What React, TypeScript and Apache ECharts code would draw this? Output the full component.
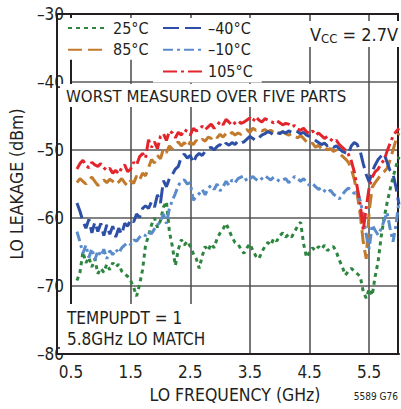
import React, { useEffect, useRef } from "react";
import * as echarts from "echarts";

const FONT = "'DejaVu Sans Condensed', 'Liberation Sans', sans-serif";

const freqGHz = [
  0.6, 0.65, 0.7, 0.75, 0.8, 0.85, 0.9, 0.95, 1.0, 1.05, 1.1, 1.15, 1.2, 1.25, 1.3, 1.35, 1.4, 1.45,
  1.5, 1.55, 1.6, 1.65, 1.7, 1.75, 1.8, 1.85, 1.9, 1.95, 2.0, 2.05, 2.1, 2.15, 2.2, 2.25, 2.3, 2.35,
  2.4, 2.45, 2.5, 2.55, 2.6, 2.65, 2.7, 2.75, 2.8, 2.85, 2.9, 2.95, 3.0, 3.05, 3.1, 3.15, 3.2, 3.25,
  3.3, 3.35, 3.4, 3.45, 3.5, 3.55, 3.6, 3.65, 3.7, 3.75, 3.8, 3.85, 3.9, 3.95, 4.0, 4.05, 4.1, 4.15,
  4.2, 4.25, 4.3, 4.35, 4.4, 4.45, 4.5, 4.55, 4.6, 4.65, 4.7, 4.75, 4.8, 4.85, 4.9, 4.95, 5.0, 5.05,
  5.1, 5.15, 5.2, 5.25, 5.3, 5.35, 5.4, 5.45, 5.5, 5.55, 5.6, 5.65, 5.7, 5.75, 5.8, 5.85, 5.9, 5.95, 6.0,
];

const leak25C = [
  -69.2, -68.0, -65.0, -66.6, -65.8, -67.2, -66.0, -68.2, -67.4, -68.0, -66.8, -67.6, -66.6, -67.2, -66.8, -67.8, -68.2, -68.6,
  -69.2, -70.2, -71.5, -69.8, -67.6, -64.0, -62.6, -61.0, -60.0, -61.4, -60.4, -58.4, -57.6, -62.0, -64.2, -67.0, -64.6, -63.2,
  -64.0, -63.4, -64.2, -65.2, -66.0, -67.4, -65.6, -64.2, -64.8, -63.8, -64.4, -63.0, -62.2, -61.6, -60.8, -61.8, -62.8, -63.6,
  -63.8, -64.6, -65.2, -64.4, -63.8, -64.8, -65.6, -66.0, -65.0, -64.2, -63.6, -64.0, -63.0, -63.4, -62.6, -62.2, -62.8, -62.4,
  -62.8, -62.0, -61.2, -60.6, -63.8, -65.8, -65.0, -64.4, -64.8, -64.2, -64.6, -64.0, -64.8, -64.4, -64.2, -65.0, -66.2, -67.2,
  -68.4, -67.8, -67.4, -67.8, -68.2, -68.6, -70.8, -71.8, -70.4, -71.4, -68.6, -66.4, -62.8, -60.0, -57.8, -55.8, -54.0, -52.4, -51.0,
];

const leak85C = [
  -54.8, -54.2, -54.6, -55.0, -54.4, -54.0, -54.6, -55.2, -55.0, -54.4, -54.8, -54.3, -54.6, -55.1, -54.7, -54.2, -54.8, -55.3,
  -54.5, -54.9, -53.8, -54.4, -53.4, -53.8, -52.6, -51.4, -51.9, -50.8, -51.3, -49.8, -50.4, -49.4, -49.9, -49.2, -48.8, -49.4,
  -48.9, -49.6, -48.8, -49.2, -48.6, -48.9, -48.4, -48.7, -48.1, -48.3, -47.8, -48.2, -47.7, -48.1, -47.6, -47.9, -47.4, -47.8,
  -47.5, -47.7, -47.3, -47.0, -47.4, -46.8, -47.1, -46.9, -47.2, -47.0, -47.3, -47.1, -47.4, -47.2, -47.5, -47.3, -47.6, -47.8,
  -47.6, -48.0, -48.2, -47.9, -48.3, -48.8, -49.2, -49.0, -49.6, -49.3, -49.8, -49.5, -50.0, -49.8, -50.2, -50.0, -50.5, -50.9,
  -51.3, -51.8, -52.8, -54.3, -56.5, -59.5, -63.5, -66.0, -59.0, -55.5, -54.8, -54.2, -53.6, -53.2, -52.7, -51.5, -50.0, -48.5, -47.5,
];

const leakM40C = [
  -57.8, -59.0, -60.5, -61.5, -60.2, -62.2, -60.6, -62.0, -60.8, -62.6, -61.0, -62.4, -61.2, -62.8, -61.5, -62.4, -60.8, -61.2,
  -60.2, -60.6, -59.4, -59.9, -58.6, -58.2, -58.6, -57.6, -58.4, -56.6, -57.8, -54.5, -55.4, -54.2, -53.6, -52.8, -52.4, -51.0,
  -50.6, -51.2, -50.8, -51.9, -50.9, -50.5, -50.8, -50.2, -49.8, -49.6, -50.0, -49.5, -49.2, -49.6, -49.0, -49.3, -48.9, -49.2,
  -48.7, -49.0, -48.8, -48.4, -48.0, -48.3, -48.6, -48.2, -47.8, -47.6, -47.3, -47.5, -47.8, -47.4, -47.6, -47.3, -47.5, -47.2,
  -47.4, -47.1, -47.3, -47.6, -47.4, -47.8, -48.0, -48.3, -48.6, -48.9, -49.2, -49.0, -49.4, -49.2, -49.6, -49.4, -49.8, -50.2,
  -50.4, -50.6, -49.4, -48.9, -49.2, -50.2, -52.0, -53.6, -54.7, -53.2, -52.2, -51.4, -50.9, -50.5, -51.8, -53.0, -53.6, -55.5, -58.0,
];

const leakM10C = [
  -62.0, -63.5, -65.2, -64.0, -65.8, -64.5, -66.2, -64.8, -65.6, -64.6, -66.0, -64.8, -65.4, -64.6, -65.2, -64.4, -64.0, -63.6,
  -63.9, -63.2, -63.4, -62.8, -62.4, -62.6, -62.0, -62.3, -61.6, -61.0, -60.6, -59.4, -60.8, -58.6, -57.4, -56.4, -55.2, -54.6,
  -54.4, -55.0, -54.8, -57.4, -56.8, -56.4, -55.8, -56.6, -55.6, -55.2, -55.8, -55.0, -56.0, -55.4, -54.6, -55.2, -54.4, -54.8,
  -54.2, -54.0, -53.8, -54.6, -54.2, -53.9, -54.3, -54.6, -54.2, -53.8, -54.1, -54.4, -54.0, -54.3, -54.6, -54.4, -54.2, -54.8,
  -54.4, -53.9, -54.2, -54.6, -54.2, -54.8, -55.2, -54.9, -55.4, -55.8, -55.5, -56.0, -56.3, -55.9, -56.5, -56.8, -57.2, -56.6,
  -56.0, -55.6, -55.9, -56.4, -56.0, -57.5, -59.5, -62.5, -64.5, -61.0, -61.8, -62.5, -61.6, -60.4, -59.2, -61.5, -63.5, -61.0, -57.5,
];

const leak105C = [
  -52.8, -52.0, -51.5, -52.3, -52.6, -51.8, -52.2, -52.4, -52.0, -52.6, -53.0, -52.7, -53.4, -53.0, -53.5, -52.6, -52.2, -53.2,
  -52.8, -51.8, -52.2, -51.0, -50.5, -51.2, -48.5, -49.6, -48.8, -49.8, -48.0, -47.6, -48.6, -47.2, -47.5, -48.2, -47.4, -47.8,
  -47.0, -47.3, -47.8, -46.8, -47.2, -47.0, -46.5, -47.0, -46.6, -46.2, -46.8, -46.4, -45.8, -46.3, -45.5, -45.9, -46.4, -46.0,
  -45.7, -46.1, -45.9, -45.6, -45.3, -45.8, -45.1, -45.6, -45.9, -45.4, -45.6, -45.8, -46.0, -45.7, -46.0, -46.3, -46.1, -46.2,
  -46.6, -46.4, -46.9, -47.1, -46.8, -47.3, -47.6, -47.2, -47.8, -47.5, -47.9, -48.3, -48.0, -48.4, -48.8, -48.6, -49.2, -49.6,
  -50.0, -50.6, -51.6, -53.2, -55.5, -58.0, -61.8, -58.5, -55.5, -54.0, -53.2, -52.8, -52.0, -51.5, -50.2, -49.0, -48.0, -47.3, -46.8,
];

const xTickValues = [0.5, 1.5, 2.5, 3.5, 4.5, 5.5];

const seriesDefs = [
  { name: "25°C", values: leak25C, color: "#2e8540", dash: [4, 4] },
  { name: "85°C", values: leak85C, color: "#c27a2c", dash: [14, 6] },
  { name: "–40°C", values: leakM40C, color: "#2d4fa6", dash: [16, 6] },
  { name: "–10°C", values: leakM10C, color: "#5a8bcb", dash: [10, 4, 3, 4] },
  { name: "105°C", values: leak105C, color: "#e3242b", dash: [14, 4, 3, 4] },
];

const dashLabel = (v: number) => String(v).replace("-", "–");

export default function App() {
  const ref = useRef<HTMLDivElement>(null);
  useEffect(() => {
    if (!ref.current) return;
    const chart = echarts.init(ref.current, null, { renderer: "svg" });
    const legendText = { fontFamily: FONT, fontSize: 16, color: "#231f20", lineHeight: 20 };
    const legendCommon = {
      orient: "vertical" as const,
      itemWidth: 40,
      itemHeight: 14,
      itemGap: 1.7,
      backgroundColor: "#fff",
      textStyle: legendText,
      selectedMode: false,
      itemStyle: { color: "rgba(0,0,0,0)", borderWidth: 0, opacity: 0 },
    };
    chart.setOption({
      animation: false,
      backgroundColor: "#fff",
      grid: { left: 56, top: 14, right: 2, bottom: 54 },
      legend: [
        { ...legendCommon, data: ["25°C", "85°C"], left: 62, top: 18, padding: [0, 8, 0, 5] },
        { ...legendCommon, data: ["–40°C", "–10°C", "105°C"], left: 153, top: 18, padding: [0, 9, 1, 9] },
      ],
      xAxis: {
        type: "value",
        min: 0.5,
        max: 6.0,
        name: "LO FREQUENCY (GHz)",
        nameLocation: "middle",
        nameGap: 32,
        nameTextStyle: { fontFamily: FONT, fontSize: 17.5, color: "#231f20" },
        axisLine: { show: true, onZero: false, lineStyle: { color: "#231f20", width: 2 } },
        axisTick: { show: false, customValues: xTickValues },
        axisLabel: {
          customValues: xTickValues,
          fontFamily: FONT,
          fontSize: 17,
          color: "#231f20",
          margin: 9,
          formatter: (v: number) => v.toFixed(1),
        },
        splitLine: { show: true, lineStyle: { color: "#4a4a4a", width: 1.5 } },
      },
      yAxis: {
        type: "value",
        min: -80,
        max: -30,
        interval: 10,
        name: "LO LEAKAGE (dBm)",
        nameLocation: "middle",
        nameGap: 36,
        nameTextStyle: { fontFamily: FONT, fontSize: 17.5, color: "#231f20" },
        axisLine: { show: true, onZero: false, lineStyle: { color: "#231f20", width: 2 } },
        axisTick: { show: false },
        axisLabel: { fontFamily: FONT, fontSize: 17, color: "#231f20", margin: 7, formatter: dashLabel },
        splitLine: { show: true, lineStyle: { color: "#5a5a5a", width: 1.5 } },
      },
      series: seriesDefs.map((s) => ({
        name: s.name,
        type: "line",
        symbol: "none",
        z: 3,
        data: freqGHz.map((f, i) => [f, s.values[i]]),
        lineStyle: { color: s.color, width: 3, type: s.dash, cap: "butt" },
        itemStyle: { color: s.color },
      })),
      graphic: [
        {
          type: "rect",
          z: 1,
          shape: { x: 57, y: 14, width: 341, height: 340 },
          style: { fill: "none", stroke: "#231f20", lineWidth: 2 },
          silent: true,
        },
        {
          type: "text",
          z: 10,
          left: 300,
          top: 21,
          style: {
            text: "{a|V}{b|CC}{a| = 2.7V}",
            backgroundColor: "#fff",
            padding: [2, 4, 2, 10],
            rich: {
              a: { fontFamily: FONT, fontSize: 18, fill: "#231f20", lineHeight: 22 },
              b: { fontFamily: FONT, fontSize: 13, fill: "#231f20", lineHeight: 22, padding: [9, 0, 0, 0] },
            },
          },
        },
        {
          type: "text",
          z: 10,
          left: 60,
          top: 84,
          style: {
            text: "WORST MEASURED OVER FIVE PARTS",
            font: `16.7px ${FONT}`,
            fill: "#231f20",
            backgroundColor: "#fff",
            padding: [3, 6, 3, 6],
          },
        },
        {
          type: "text",
          z: 10,
          left: 60,
          top: 304,
          style: {
            text: "TEMPUPDT = 1\n5.8GHz LO MATCH",
            font: `17px ${FONT}`,
            lineHeight: 21.5,
            fill: "#231f20",
            backgroundColor: "#fff",
            padding: [3, 6, 3, 7],
          },
        },
        {
          type: "text",
          z: 10,
          right: 3,
          top: 391,
          style: { text: "5589 G76", font: `10px ${FONT}`, fill: "#231f20" },
        },
      ],
    });
    return () => chart.dispose();
  }, []);
  return (
    <div
      ref={ref}
      style={{ position: "fixed", left: 0, top: 0, width: 401, height: 409, background: "#fff" }}
    />
  );
}
